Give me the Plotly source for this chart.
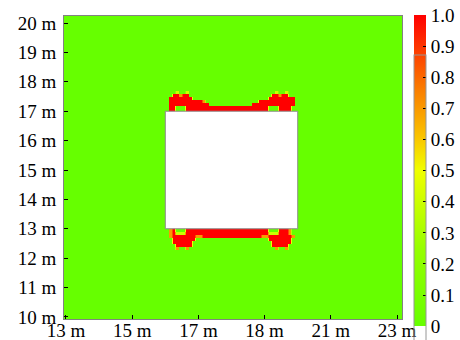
import numpy as np
import plotly.graph_objects as go

# ---- tick labels (as printed in the reference) ----
X_TICK_VALS = [13, 15, 17, 19, 21, 23]
X_TICK_TEXT = ["13 m", "15 m", "17 m", "18 m", "21 m", "23 m"]
Y_TICK_VALS = [10, 11, 12, 13, 14, 15, 16, 17, 18, 19, 20]
Y_TICK_TEXT = ["10 m", "11 m", "12 m", "13 m", "14 m", "15 m", "16 m", "17 m", "18 m", "19 m", "20 m"]
CB_TICK_VALS = [0, 0.1, 0.2, 0.3, 0.4, 0.5, 0.6, 0.7, 0.8, 0.9, 1.0]
CB_TICK_TEXT = ["0", "0.1", "0.2", "0.3", "0.4", "0.5", "0.6", "0.7", "0.8", "0.9", "1.0"]

# ---- geometry of the opening (m) ----
HOLE_X = [16.0, 20.0]
HOLE_Y = [13.0, 17.0]

# ---- field grid (0.05 m cells) ----
GRID_X0 = 12.925
GRID_Y0 = 9.925
FINE = 0.05
NX = 206
NY = 208

# damage maps: '.'=0, '+'=0.4, 'o'=0.7, '#'=1
# each character is a 0.1 m cell; columns start at x=16.0 m,
# rows go downward from the given top edge (m)
MAP_CELL = 0.1
MAP_X0 = 16.0
TOP_MAP_Y = 17.7
TOP_MAP = [
    "...+..+..........................+..+...",
    "..##o##.........................##o##...",
    ".#######.......................########.",
    ".##########o................###########.",
    ".############.............#############.",
    ".##...#########################...####.",
    ".##...#########################...####.",
]
BOTTOM_MAP_Y = 13.0
BOTTOM_MAP = [
    ".o#...#########################...###o.",
    ".o#+++#########################+++###o.",
    ".o#######oo##################oo#######o.",
    "..#######......................#######..",
    "..######........................######..",
    "...#####........................#####...",
    "...o..o..........................o..o...",
]
CHAR_VALUE = {".": 0.0, "+": 0.4, "o": 0.7, "#": 1.0}

x = GRID_X0 + FINE * np.arange(NX)
y = GRID_Y0 + FINE * np.arange(NY)
z = np.zeros((NY, NX))


def paint(rows, y_top):
    for r, row in enumerate(rows):
        for c, ch in enumerate(row.ljust(40, ".")[:40]):
            for dy in (0.25, 0.75):
                yi = int(round((y_top - MAP_CELL * (r + dy) - GRID_Y0) / FINE))
                for dx in (0.25, 0.75):
                    xi = int(round((MAP_X0 + MAP_CELL * (c + dx) - GRID_X0) / FINE))
                    z[yi, xi] = CHAR_VALUE[ch]


paint(TOP_MAP, TOP_MAP_Y)
paint(BOTTOM_MAP, BOTTOM_MAP_Y)
# under the (white) opening, continue the edge rows so smoothing stays sharp
paint([TOP_MAP[-1]], TOP_MAP_Y - MAP_CELL * len(TOP_MAP))
paint([BOTTOM_MAP[0]], BOTTOM_MAP_Y + MAP_CELL)

COLORSCALE = [
    [0.0, "rgb(102,255,0)"],
    [0.25, "rgb(150,255,0)"],
    [0.5, "rgb(240,255,0)"],
    [0.6, "rgb(250,200,0)"],
    [0.75, "rgb(250,130,0)"],
    [1.0, "rgb(255,0,0)"],
]

FONT = dict(family="Liberation Serif", size=19, color="black")

W, H = 460, 340

fig = go.Figure(
    go.Heatmap(
        x=x, y=y, z=z, zmin=0, zmax=1, zsmooth="best",
        colorscale=COLORSCALE,
        colorbar=dict(
            xref="container", yref="container",
            x=414 / W, xanchor="left",
            y=1 - 17 / H, yanchor="top",
            len=311, lenmode="pixels",
            thickness=12, thicknessmode="pixels",
            outlinecolor="rgb(150,150,150)", outlinewidth=1,
            tickvals=CB_TICK_VALS, ticktext=CB_TICK_TEXT,
            ticks="inside", ticklen=3, tickcolor="black",
            tickfont=FONT, xpad=0, ypad=0,
            ticklabeloverflow="allow",
        ),
        hoverinfo="skip",
    )
)

fig.add_shape(
    type="rect", xref="x", yref="y",
    x0=HOLE_X[0], x1=HOLE_X[1], y0=HOLE_Y[0], y1=HOLE_Y[1],
    fillcolor="white", line=dict(color="rgb(140,140,140)", width=1),
    layer="above",
)

axis_common = dict(
    showgrid=False, zeroline=False, showline=True, mirror=True,
    linecolor="rgb(130,130,130)", linewidth=1,
    ticks="inside", ticklen=4, tickcolor="black", tickwidth=1,
    tickfont=FONT, automargin=False, ticklabeloverflow="allow",
)

fig.update_xaxes(range=[12.94, 23.15], tickvals=X_TICK_VALS, ticktext=X_TICK_TEXT,
                 ticklabelstandoff=-6, **axis_common)
fig.update_yaxes(range=[9.93, 20.24], tickvals=Y_TICK_VALS, ticktext=Y_TICK_TEXT,
                 ticklabelstandoff=3, **axis_common)

fig.update_layout(
    width=W, height=H,
    margin=dict(l=64, r=58, t=16, b=21, pad=0),
    plot_bgcolor="white", paper_bgcolor="white",
    font=FONT, showlegend=False,
)

# remove the browser's default 8 px page margin so the figure fills the window
fig.write_html(
    "out.html",
    config={"displayModeBar": False},
    post_script="document.body.style.margin='0px';",
)
